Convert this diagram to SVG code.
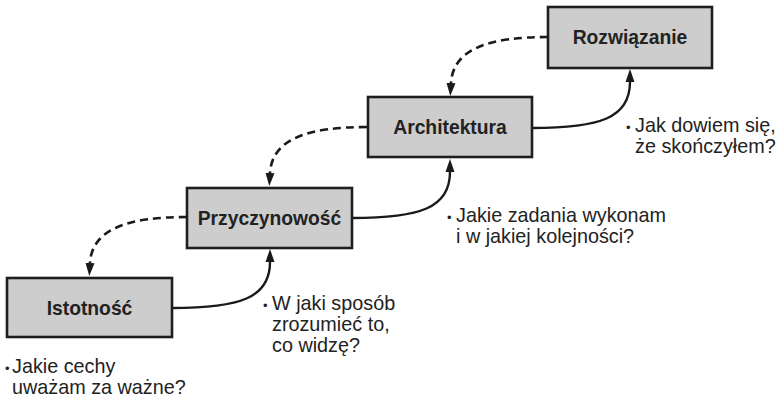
<svg xmlns="http://www.w3.org/2000/svg" width="779" height="399" viewBox="0 0 779 399">
<defs>
<marker id="ah" markerUnits="userSpaceOnUse" markerWidth="14" markerHeight="12" viewBox="0 -6 14 12" refX="0" refY="0" orient="auto">
<path d="M0,-4.5 L13,0 L0,4.5 Z" fill="#1a1a1a"/>
</marker>
</defs>
<style>
.box{fill:#cdcdcd;stroke:#1e1e1e;stroke-width:2.6}
.bl{font-family:"Liberation Sans",Arial,sans-serif;font-weight:bold;font-size:19.3px;fill:#222;text-anchor:middle}
.lbl{font-family:"Liberation Sans",Arial,sans-serif;font-size:19.8px;fill:#222}
.bu{font-family:"Liberation Sans",Arial,sans-serif;font-size:13px;fill:#222}
.sol{fill:none;stroke:#1a1a1a;stroke-width:2.4}
.dsh{fill:none;stroke:#1a1a1a;stroke-width:2.6;stroke-dasharray:8 5}
</style>
<rect width="779" height="399" fill="#ffffff"/>
<g id="connectors">
<path class="sol" d="M172,308 C240,308 270,298 270,262" marker-end="url(#ah)"/>
<path class="sol" d="M352,218 C420,218 450,208 450,172" marker-end="url(#ah)"/>
<path class="sol" d="M532,128 C600,128 630,118 630,82" marker-end="url(#ah)"/>
<path class="dsh" d="M187,217 C130,217 92,228 90,263" marker-end="url(#ah)"/>
<path class="dsh" d="M367,127 C310,127 272,138 270,173" marker-end="url(#ah)"/>
<path class="dsh" d="M548,37 C491,37 453,48 451,83" marker-end="url(#ah)"/>
</g>
<g id="istotnosc">
<rect class="box" x="7" y="278" width="165" height="59"/>
<text class="bl" x="89.5" y="314.5">Istotność</text>
</g>
<g id="przyczynowosc">
<rect class="box" x="187" y="188" width="165" height="60"/>
<text class="bl" x="269.5" y="225">Przyczynowość</text>
</g>
<g id="architektura">
<rect class="box" x="368" y="97" width="164" height="60"/>
<text class="bl" x="450" y="134">Architektura</text>
</g>
<g id="rozwiazanie">
<rect class="box" x="548" y="7" width="164" height="61"/>
<text class="bl" x="630" y="44">Rozwiązanie</text>
</g>
<g id="label-istotnosc">
<text class="bu" x="5" y="373">•</text>
<text class="lbl" x="12" y="373">Jakie cechy</text>
<text class="lbl" x="12" y="394">uważam za ważne?</text>
</g>
<g id="label-przyczynowosc">
<text class="bu" x="263" y="310">•</text>
<text class="lbl" x="272" y="310">W jaki sposób</text>
<text class="lbl" x="272" y="331">zrozumieć to,</text>
<text class="lbl" x="272" y="352">co widzę?</text>
</g>
<g id="label-architektura">
<text class="bu" x="447" y="222">•</text>
<text class="lbl" x="456" y="222">Jakie zadania wykonam</text>
<text class="lbl" x="456" y="243">i w jakiej kolejności?</text>
</g>
<g id="label-rozwiazanie">
<text class="bu" x="626" y="132">•</text>
<text class="lbl" x="635" y="132">Jak dowiem się,</text>
<text class="lbl" x="635" y="153">że skończyłem?</text>
</g>
</svg>
